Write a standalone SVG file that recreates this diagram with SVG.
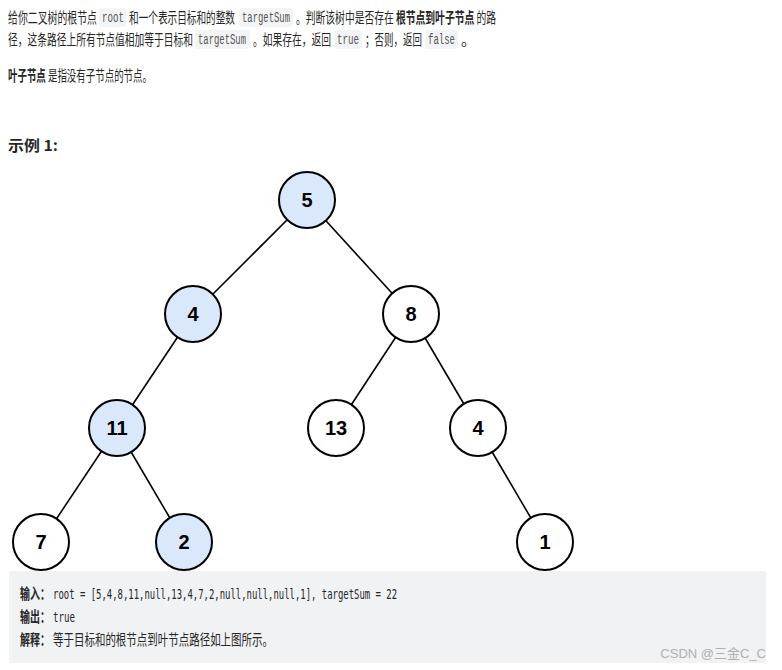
<svg xmlns="http://www.w3.org/2000/svg" width="782" height="670" viewBox="0 0 782 670">
<style>
.t{font-family:"Noto Sans CJK SC","Liberation Sans",sans-serif;font-size:15px;fill:#262626}
.b{font-weight:bold}
.c{font-family:"Liberation Mono",monospace;font-size:14px;fill:#555}
.cb{fill:#f3f4f5}
.n circle{stroke:#000;stroke-width:2;fill:#fff}
.n.h circle{fill:#dae8fc}
.n text{font-family:"Liberation Sans",Arial,sans-serif;font-size:20px;font-weight:bold;text-anchor:middle;fill:#000}
.e line{stroke:#000;stroke-width:1.6}
.m{font-family:"DejaVu Sans Mono",monospace;font-size:14px;fill:#262626}
.mc{font-family:"Noto Sans CJK SC",sans-serif;font-size:15px;fill:#262626}
</style>
<rect width="782" height="670" fill="#fff"/>
<g id="desc">
<rect class="cb" x="99" y="8" width="27" height="19" rx="3"/>
<rect class="cb" x="239" y="8" width="54" height="19" rx="3"/>
<rect class="cb" x="195" y="30" width="55" height="19" rx="3"/>
<rect class="cb" x="334" y="30" width="28" height="19" rx="3"/>
<rect class="cb" x="425" y="30" width="33" height="19" rx="3"/>
<text class="t" x="8" y="23" textLength="89" lengthAdjust="spacingAndGlyphs">给你二叉树的根节点</text>
<text class="c" x="102" y="22" textLength="22" lengthAdjust="spacingAndGlyphs">root</text>
<text class="t" x="129" y="23" textLength="106" lengthAdjust="spacingAndGlyphs">和一个表示目标和的整数</text>
<text class="c" x="242" y="22" textLength="48" lengthAdjust="spacingAndGlyphs">targetSum</text>
<text class="t" x="296" y="23" textLength="200" lengthAdjust="spacingAndGlyphs">。判断该树中是否存在 <tspan class="b">根节点到叶子节点</tspan> 的路</text>
<text class="t" x="8" y="45" textLength="185" lengthAdjust="spacingAndGlyphs">径，这条路径上所有节点值相加等于目标和</text>
<text class="c" x="198" y="44" textLength="48" lengthAdjust="spacingAndGlyphs">targetSum</text>
<text class="t" x="253" y="45" textLength="78" lengthAdjust="spacingAndGlyphs">。如果存在，返回</text>
<text class="c" x="337" y="44" textLength="22" lengthAdjust="spacingAndGlyphs">true</text>
<text class="t" x="365" y="45" textLength="57" lengthAdjust="spacingAndGlyphs">；否则，返回</text>
<text class="c" x="428" y="44" textLength="27" lengthAdjust="spacingAndGlyphs">false</text>
<text class="t" x="461" y="45">。</text>
<text class="t" x="8" y="81" textLength="144" lengthAdjust="spacingAndGlyphs"><tspan class="b">叶子节点</tspan> 是指没有子节点的节点。</text>
<text class="t b" x="8" y="151" textLength="50" lengthAdjust="spacingAndGlyphs">示例 1:</text>
</g>
<g id="edges" class="e">
<line x1="307" y1="200" x2="193" y2="314"/>
<line x1="307" y1="200" x2="411" y2="314"/>
<line x1="193" y1="314" x2="117" y2="428"/>
<line x1="411" y1="314" x2="336" y2="428"/>
<line x1="411" y1="314" x2="478" y2="428"/>
<line x1="117" y1="428" x2="41" y2="542"/>
<line x1="117" y1="428" x2="184" y2="542"/>
<line x1="478" y1="428" x2="545" y2="542"/>
</g>
<g id="n5" class="n h"><circle cx="307" cy="200" r="28"/><text x="307" y="207">5</text></g>
<g id="n4" class="n h"><circle cx="193" cy="314" r="28"/><text x="193" y="321">4</text></g>
<g id="n8" class="n"><circle cx="411" cy="314" r="28"/><text x="411" y="321">8</text></g>
<g id="n11" class="n h"><circle cx="117" cy="428" r="28"/><text x="117" y="435">11</text></g>
<g id="n13" class="n"><circle cx="336" cy="428" r="28"/><text x="336" y="435">13</text></g>
<g id="n4b" class="n"><circle cx="478" cy="428" r="28"/><text x="478" y="435">4</text></g>
<g id="n7" class="n"><circle cx="41" cy="542" r="28"/><text x="41" y="549">7</text></g>
<g id="n2" class="n h"><circle cx="184" cy="542" r="28"/><text x="184" y="549">2</text></g>
<g id="n1" class="n"><circle cx="545" cy="542" r="28"/><text x="545" y="549">1</text></g>
<g id="example">
<rect x="9" y="571" width="757" height="92" rx="3" fill="#f1f2f4"/>
<text class="mc b" x="20" y="599" textLength="30" lengthAdjust="spacingAndGlyphs">输入：</text>
<text class="m" x="53" y="599" textLength="344" lengthAdjust="spacingAndGlyphs">root = [5,4,8,11,null,13,4,7,2,null,null,null,1], targetSum = 22</text>
<text class="mc b" x="20" y="622" textLength="30" lengthAdjust="spacingAndGlyphs">输出：</text>
<text class="m" x="53" y="622" textLength="22" lengthAdjust="spacingAndGlyphs">true</text>
<text class="mc b" x="20" y="645" textLength="30" lengthAdjust="spacingAndGlyphs">解释：</text>
<text class="mc" x="53" y="645" textLength="220" lengthAdjust="spacingAndGlyphs">等于目标和的根节点到叶节点路径如上图所示。</text>
<text x="766" y="658" text-anchor="end" font-family="Liberation Sans,Noto Sans CJK SC,sans-serif" font-size="13" fill="#b0b0b0">CSDN @三金C_C</text>
</g>
</svg>
